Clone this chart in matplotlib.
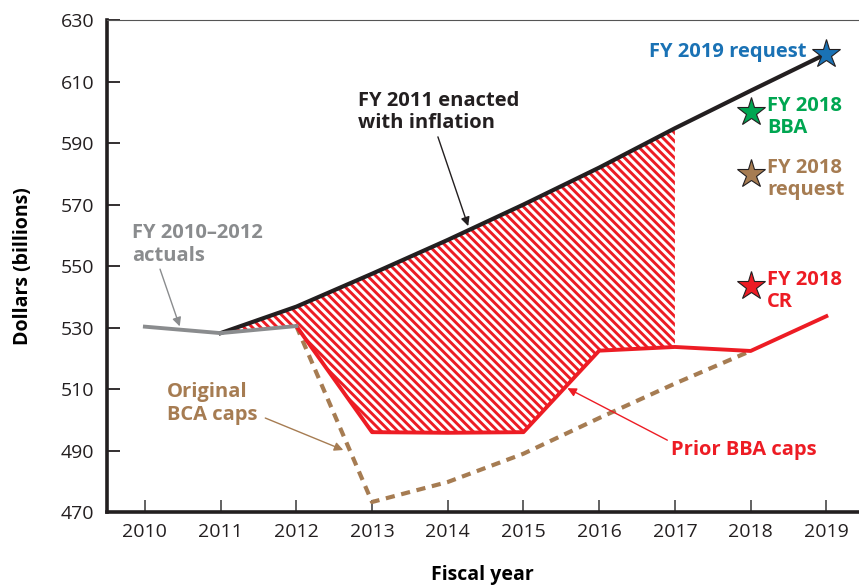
import matplotlib
matplotlib.use("Agg")
import matplotlib.pyplot as plt

plt.rcParams["font.family"] = ["Open Sans", "DejaVu Sans"]
plt.rcParams["hatch.linewidth"] = 2.1

# data
actual_years = [2010, 2011, 2012]
actual_vals = [530.3, 528.2, 530.5]

enacted_years = [2011, 2012, 2013, 2014, 2015, 2016, 2017, 2018, 2019]
enacted_vals = [528.2, 536.8, 547.5, 558.5, 570.0, 582.0, 594.8, 607.0, 619.0]

bba_years = [2012, 2013, 2014, 2015, 2016, 2017, 2018, 2019]
bba_vals = [530.5, 496.0, 495.8, 496.0, 522.5, 523.7, 522.4, 533.7]

bca_years = [2012, 2013, 2014, 2015, 2016, 2017, 2018]
bca_vals = [530.5, 473.3, 479.8, 489.0, 500.6, 511.8, 522.4]

# hatched gap between enacted line and actuals / prior caps
gap_years = [2011, 2012, 2013, 2014, 2015, 2016, 2017]
gap_upper = [528.2, 536.8, 547.5, 558.5, 570.0, 582.0, 594.8]
gap_lower = [528.2, 530.5, 496.0, 495.8, 496.0, 522.5, 523.7]

star_years = [2019, 2018, 2018, 2018]
star_vals = [619.0, 600.0, 580.0, 543.5]
star_colors = ["#1a72b5", "#00a651", "#a67c52", "#ed1c24"]

RED = "#ed1c24"
BROWN = "#a67c52"
GRAY = "#8a8c8e"
BLACK = "#231f20"

fig = plt.figure(figsize=(8.59, 5.88), dpi=100)
ax = fig.add_axes([0.1246, 0.129, 0.8744, 0.837])

ax.fill_between(gap_years, gap_lower, gap_upper, facecolor="white",
                edgecolor=RED, hatch="\\\\\\\\", linewidth=0, zorder=1)

ax.plot(bca_years, bca_vals, color=BROWN, lw=3, ls=(0, (2.2, 1.6)), zorder=2)
ax.plot(bba_years, bba_vals, color=RED, lw=2.8, zorder=3)
ax.plot(enacted_years, enacted_vals, color=BLACK, lw=3, zorder=4)
ax.plot(actual_years, actual_vals, color=GRAY, lw=2.8, zorder=5)

for x, y, c in zip(star_years, star_vals, star_colors):
    ax.plot(x, y, marker="*", ms=21, color=c, mec=BLACK, mew=0.8, zorder=6)

bold = dict(fontsize=14.5, fontweight="bold", linespacing=1.18, va="center")
ax.text(2018.735, 619.6, "FY 2019 request", color=star_colors[0], ha="right", **bold)
ax.text(2018.22, 598.5, "FY 2018\nBBA", color=star_colors[1], ha="left", **bold)
ax.text(2018.22, 578.3, "FY 2018\nrequest", color=star_colors[2], ha="left", **bold)
ax.text(2018.22, 541.9, "FY 2018\nCR", color=star_colors[3], ha="left", **bold)
ax.text(2012.81, 600.1, "FY 2011 enacted\nwith inflation", color=BLACK, ha="left", **bold)
ax.text(2009.83, 557.0, "FY 2010\u20132012\nactuals", color=GRAY, ha="left", **bold)
ax.text(2010.29, 505.3, "Original\nBCA caps", color=BROWN, ha="left", **bold)
ax.text(2017.91, 490.2, "Prior BBA caps", color=RED, ha="center", **bold)

arrows = [
    ((2013.87, 592.0), (2014.27, 563.0), BLACK),
    ((2010.20, 549.0), (2010.46, 530.4), GRAY),
    ((2011.59, 500.6), (2012.62, 490.2), BROWN),
    ((2016.90, 493.4), (2015.58, 510.3), RED),
]
for tail, head, c in arrows:
    ax.annotate("", xy=head, xytext=tail,
                arrowprops=dict(arrowstyle="-|>", color=c, lw=1.0, mutation_scale=13,
                                shrinkA=0, shrinkB=0), zorder=7)

ax.set_xlim(2009.5, 2019.42)
ax.set_ylim(470, 630)
ax.set_xticks(list(range(2010, 2020)))
ax.set_yticks(list(range(470, 631, 20)))
ax.tick_params(axis="y", direction="in", length=9, width=1.3, color=BLACK,
               labelsize=14, pad=9, labelcolor=BLACK)
ax.tick_params(axis="x", direction="in", length=9, width=1.3, color="#555555",
               labelsize=14, pad=8, labelcolor=BLACK)

ax.spines["left"].set_linewidth(2.6)
ax.spines["left"].set_color(BLACK)
ax.spines["bottom"].set_linewidth(2.6)
ax.spines["bottom"].set_color(BLACK)
ax.spines["top"].set_linewidth(0.8)
ax.spines["top"].set_color("#555555")
ax.spines["right"].set_visible(False)

ax.set_ylabel("Dollars (billions)", fontsize=14, fontweight="bold", labelpad=20)
ax.set_xlabel("Fiscal year", fontsize=14, fontweight="bold", labelpad=17)

fig.savefig("out.png", dpi=100)
